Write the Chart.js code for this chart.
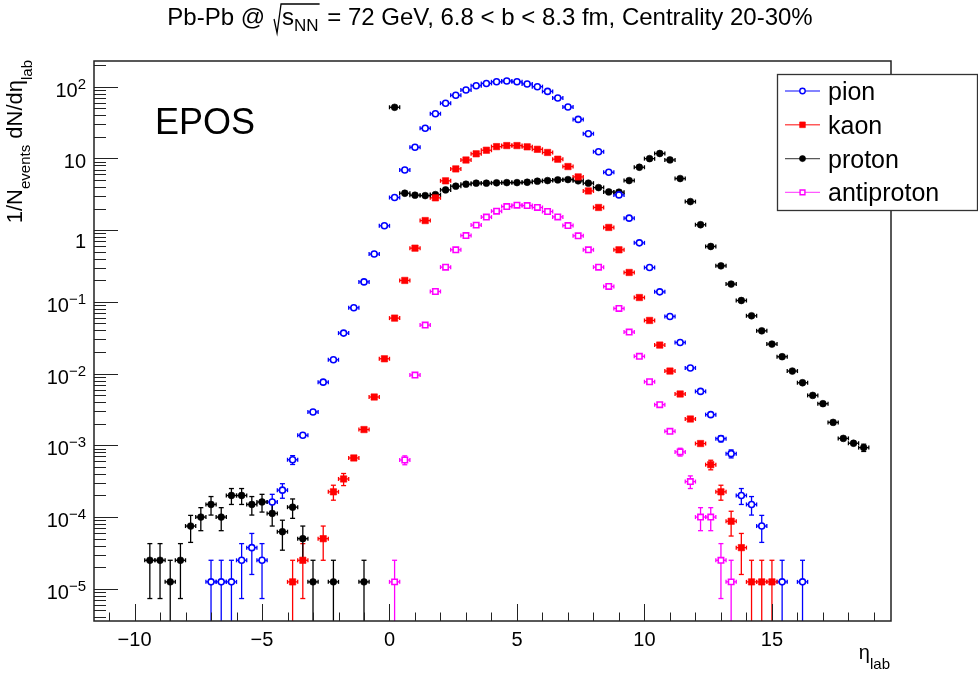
<!DOCTYPE html>
<html>
<head>
<meta charset="utf-8">
<title>EPOS Pb-Pb eta distributions</title>
<script src="https://cdn.jsdelivr.net/npm/chart.js@4.4.0/dist/chart.umd.min.js"></script>
<style>
  html, body { margin: 0; padding: 0; background: #fff; }
</style>
</head>
<body>
<canvas id="etaChart" width="978" height="673"></canvas>
<script>
const pionColor = '#0000ff'
const kaonColor = '#ff0000'
const protonColor = '#000000'
const antiprotonColor = '#ff00ff'

const fontFamily = '"Liberation Sans", Arial, Helvetica, sans-serif'

// eta_lab bin centres (bin width 0.4) and 1/Nevents dN/deta
const pionEta = [-7.0, -6.6, -6.2, -5.8, -5.4, -5.0, -4.6, -4.2, -3.8, -3.4, -3.0, -2.6, -2.2, -1.8, -1.4, -1.0, -0.6, -0.2,
  0.2, 0.6, 1.0, 1.4, 1.8, 2.2, 2.6, 3.0, 3.4, 3.8, 4.2, 4.6, 5.0, 5.4, 5.8, 6.2, 6.6, 7.0, 7.4, 7.8, 8.2, 8.6, 9.0, 9.4,
  9.8, 10.2, 10.6, 11.0, 11.4, 11.8, 12.2, 12.6, 13.0, 13.4, 13.8, 14.2, 14.6, 15.4, 16.2]
const pionVal = [1.25e-5, 1.25e-5, 1.25e-5, 2.5e-5, 3.75e-5, 2.5e-5, 1.625e-4, 2.375e-4, 6.3e-4, 1.38e-3, 2.92e-3, 7.6e-3, 0.0156, 0.0367, 0.0828, 0.19, 0.464, 1.15,
  2.85, 6.9, 14.3, 26.3, 42, 58.8, 75.9, 90, 103, 111, 117, 120, 117, 109, 100, 86, 69.6, 52, 35, 22.1, 12.4, 6.4, 3.1, 1.47,
  0.665, 0.301, 0.138, 0.0627, 0.0272, 0.012, 5.65e-3, 2.68e-3, 1.24e-3, 7.66e-4, 2e-4, 1.5e-4, 7.5e-5, 1.25e-5, 1.25e-5]

const kaonEta = [-3.8, -3.4, -2.6, -2.2, -1.8, -1.4, -1.0, -0.6, -0.2, 0.2, 0.6, 1.0, 1.4, 1.8, 2.2, 2.6, 3.0, 3.4, 3.8, 4.2,
  4.6, 5.0, 5.4, 5.8, 6.2, 6.6, 7.0, 7.4, 7.8, 8.2, 8.6, 9.0, 9.4, 9.8, 10.2, 10.6, 11.0, 11.4, 11.8, 12.2, 12.6, 13.0,
  13.4, 13.8, 14.2, 14.6, 15.0]
const kaonVal = [1.25e-5, 2.5e-5, 5e-5, 2.25e-4, 3.4e-4, 6.67e-4, 1.66e-3, 4.72e-3, 0.0161, 0.0594, 0.199, 0.561, 1.36, 2.82, 4.87, 7.14, 9.5, 11.6, 13.0, 14.6,
  15.1, 15.1, 14.5, 13.4, 12.1, 9.75, 7.7, 5.52, 3.52, 2.07, 1.09, 0.532, 0.257, 0.115, 0.0551, 0.025, 0.01086, 5.2e-3, 2.33e-3, 1.06e-3, 5.38e-4, 2.25e-4,
  8.75e-5, 3.75e-5, 1.25e-5, 1.25e-5, 1.25e-5]

const protonEta = [-9.4, -9.0, -8.6, -8.2, -7.8, -7.4, -7.0, -6.6, -6.2, -5.8, -5.4, -5.0, -4.6, -4.2, -3.8, -3.4, -3.0, -2.2, -1.0,
  0.2, 0.6, 1.0, 1.4, 1.8, 2.2, 2.6, 3.0, 3.4, 3.8, 4.2, 4.6, 5.0, 5.4, 5.8, 6.2, 6.6, 7.0, 7.4, 7.8, 8.2, 8.6, 9.0, 9.4,
  9.8, 10.2, 10.6, 11.0, 11.4, 11.8, 12.2, 12.6, 13.0, 13.4, 13.8, 14.2, 14.6, 15.0, 15.4, 15.8, 16.2, 16.6, 17.0, 17.4,
  17.8, 18.2, 18.6]
const protonVal = [2.5e-5, 2.5e-5, 1.25e-5, 2.5e-5, 7.5e-5, 1e-4, 1.5e-4, 1e-4, 2e-4, 2e-4, 1.5e-4, 1.625e-4, 1.125e-4, 6.25e-5, 1.375e-4, 5e-5, 1.25e-5, 1.25e-5, 1.25e-5,
  51.6, 3.27, 3.07, 3.03, 3.13, 3.64, 4.1, 4.37, 4.52, 4.52, 4.57, 4.6, 4.6, 4.65, 4.81, 4.91, 5.02, 5.07, 4.87, 4.52, 3.92, 3.41, 3.38, 4.91,
  7.53, 9.93, 11.7, 9.53, 5.24, 2.5, 1.19, 0.592, 0.318, 0.177, 0.1045, 0.064, 0.0395, 0.0258, 0.0172, 0.01086, 0.00746, 0.00497, 0.00381, 0.00209,
  0.00125, 0.00107, 0.00093]

const antiprotonEta = [0.2, 0.6, 1.0, 1.4, 1.8, 2.2, 2.6, 3.0, 3.4, 3.8, 4.2, 4.6, 5.0, 5.4, 5.8, 6.2, 6.6, 7.0, 7.4, 7.8,
  8.2, 8.6, 9.0, 9.4, 9.8, 10.2, 10.6, 11.0, 11.4, 11.8, 12.2, 12.6, 13.0, 13.4]
const antiprotonVal = [1.25e-5, 6.25e-4, 9.55e-3, 0.0475, 0.1396, 0.305, 0.532, 0.841, 1.175, 1.52, 1.84, 2.13, 2.23, 2.2, 2.07, 1.82, 1.53, 1.16, 0.834, 0.532,
  0.305, 0.164, 0.081, 0.038, 0.0174, 0.0077, 0.00369, 0.00157, 8.1e-4, 3.125e-4, 1e-4, 1e-4, 2.5e-5, 1.25e-5]

// one entry in a bin is 1.25e-5 after normalisation, errors are poissonian
const binHalfWidth = 0.2
const countUnit = 1.25e-5

const xMajorTicks = [-10, -5, 0, 5, 10, 15]
const xTickLabels = ['\u221210', '\u22125', '0', '5', '10', '15']
const yMajorTicks = [1e-5, 1e-4, 1e-3, 1e-2, 1e-1, 1, 10, 100]
const yTickBase = ['10', '10', '10', '10', '10', '1', '10', '10']
const yTickExp = ['\u22125', '\u22124', '\u22123', '\u22122', '\u22121', '', '', '2']

const xRange = [-11.59, 19.67]
const yRange = [3.56e-6, 228]

const series = [
  { label: 'pion', eta: pionEta, val: pionVal, color: pionColor, style: 'circle', open: true, radius: 3 },
  { label: 'kaon', eta: kaonEta, val: kaonVal, color: kaonColor, style: 'rect', open: false, radius: 4.5 },
  { label: 'proton', eta: protonEta, val: protonVal, color: protonColor, style: 'circle', open: false, radius: 3.4 },
  { label: 'antiproton', eta: antiprotonEta, val: antiprotonVal, color: antiprotonColor, style: 'rect', open: true, radius: 3.8 }
]

function makeDataset(s) {
  var pts = []
  for (var i = 0; i < s.eta.length; i++) {
    pts.push({ x: s.eta[i], y: s.val[i] })
  }
  return {
    label: s.label,
    data: pts,
    pointStyle: s.style,
    pointRadius: s.radius,
    pointBorderWidth: s.open ? 1.6 : 0.6,
    pointBorderColor: s.color,
    pointBackgroundColor: s.open ? '#ffffff' : s.color,
    showLine: false
  }
}

function line(ctx, x1, y1, x2, y2) {
  ctx.beginPath()
  ctx.moveTo(x1, y1)
  ctx.lineTo(x2, y2)
  ctx.stroke()
}

function drawErrors(chart) {
  var ctx = chart.ctx
  var xs = chart.scales.x
  var ys = chart.scales.y
  var area = chart.chartArea
  ctx.save()
  ctx.beginPath()
  ctx.rect(area.left, area.top, area.right - area.left, area.bottom - area.top)
  ctx.clip()
  ctx.lineWidth = 1.3
  series.forEach(function (s) {
    ctx.strokeStyle = s.color
    for (var i = 0; i < s.eta.length; i++) {
      var px = xs.getPixelForValue(s.eta[i])
      var py = ys.getPixelForValue(s.val[i])
      var xl = xs.getPixelForValue(s.eta[i] - binHalfWidth)
      var xr = xs.getPixelForValue(s.eta[i] + binHalfWidth)
      line(ctx, xl, py, xr, py)
      line(ctx, xl, py - 2, xl, py + 2)
      line(ctx, xr, py - 2, xr, py + 2)
      var err = Math.sqrt(s.val[i] * countUnit)
      var yt = ys.getPixelForValue(s.val[i] + err)
      var lo = s.val[i] - err
      var yb = lo > 0 ? ys.getPixelForValue(lo) : area.bottom + 2
      if (yb - yt > 2 * s.radius) {
        line(ctx, px, yt, px, yb)
        line(ctx, px - 2.5, yt, px + 2.5, yt)
        if (lo > 0) line(ctx, px - 2.5, yb, px + 2.5, yb)
      }
    }
  })
  ctx.restore()
}

function drawFrame(chart) {
  var ctx = chart.ctx
  var xs = chart.scales.x
  var ys = chart.scales.y
  var a = chart.chartArea
  ctx.save()
  ctx.strokeStyle = '#222'
  ctx.lineWidth = 1
  // log y ticks, long on decades
  for (var e = -6; e <= 2; e++) {
    for (var k = 1; k <= 9; k++) {
      var v = k * Math.pow(10, e)
      if (v < yRange[0] || v > yRange[1]) continue
      var py = Math.round(ys.getPixelForValue(v)) + 0.5
      line(ctx, a.left, py, a.left + (k === 1 ? 24 : 12), py)
    }
  }
  for (var t = Math.ceil(xRange[0]); t <= Math.floor(xRange[1]); t++) {
    var px = Math.round(xs.getPixelForValue(t)) + 0.5
    line(ctx, px, a.bottom, px, a.bottom - (t % 5 === 0 ? 17 : 8.5))
  }
  ctx.lineWidth = 1.5
  ctx.strokeRect(a.left, a.top, a.right - a.left, a.bottom - a.top)
  ctx.restore()
}

function drawTickLabels(chart) {
  var ctx = chart.ctx
  var xs = chart.scales.x
  var ys = chart.scales.y
  ctx.save()
  ctx.fillStyle = '#000'
  ctx.textBaseline = 'alphabetic'
  ctx.font = '20px ' + fontFamily
  ctx.textAlign = 'center'
  for (var i = 0; i < xMajorTicks.length; i++) {
    ctx.fillText(xTickLabels[i], xs.getPixelForValue(xMajorTicks[i]), 646)
  }
  ctx.textAlign = 'left'
  var right = 86
  for (var j = 0; j < yMajorTicks.length; j++) {
    var py = ys.getPixelForValue(yMajorTicks[j])
    ctx.font = '15px ' + fontFamily
    var ew = yTickExp[j] ? ctx.measureText(yTickExp[j]).width : 0
    ctx.font = '20px ' + fontFamily
    var bw = ctx.measureText(yTickBase[j]).width
    // ROOT drops the lone "1" a bit lower than the others
    var base = py + (yTickBase[j] === '1' ? 18 : 10)
    ctx.fillText(yTickBase[j], right - ew - bw, base)
    if (yTickExp[j]) {
      ctx.font = '15px ' + fontFamily
      ctx.fillText(yTickExp[j], right - ew, base - 8)
    }
  }
  ctx.restore()
}

function drawTitles(chart) {
  var ctx = chart.ctx
  ctx.save()
  ctx.fillStyle = '#000'
  ctx.strokeStyle = '#000'
  ctx.textBaseline = 'alphabetic'
  ctx.textAlign = 'left'

  // main title with a sqrt over s_NN
  var big = '24px ' + fontFamily
  var small = '17px ' + fontFamily
  var t1 = 'Pb-Pb @', t2 = 's', t3 = 'NN', t4 = ' = 72 GeV, 6.8 < b < 8.3 fm, Centrality 20-30%'
  ctx.font = big
  var w1 = ctx.measureText(t1).width
  var w2 = ctx.measureText(t2).width
  var w4 = ctx.measureText(t4).width
  ctx.font = small
  var w3 = ctx.measureText(t3).width
  var gap = 9
  var total = w1 + gap + 8 + w2 + w3 + 2 + w4
  var x = 490 - total / 2
  var base = 25
  ctx.font = big
  ctx.fillText(t1, x, base)
  x += w1 + gap
  ctx.lineWidth = 1.3
  ctx.beginPath()
  ctx.moveTo(x, base - 6)
  ctx.lineTo(x + 3, base + 8)
  ctx.lineTo(x + 7, base - 21)
  ctx.lineTo(x + 8 + w2 + w3 + 1, base - 21)
  ctx.stroke()
  x += 8
  ctx.fillText(t2, x, base)
  x += w2
  ctx.font = small
  ctx.fillText(t3, x, base + 6)
  x += w3 + 2
  ctx.font = big
  ctx.fillText(t4, x, base)

  // y axis title, rotated, ending at the frame top
  var parts = [['1/N', 22, 0], ['events', 15, 8], [' dN/d\u03b7', 22, 0], ['lab', 15, 10]]
  var len = 0
  parts.forEach(function (p) { ctx.font = p[1] + 'px ' + fontFamily; p.push(ctx.measureText(p[0]).width); len += p[3] })
  ctx.save()
  ctx.translate(22, 60 + len)
  ctx.rotate(-Math.PI / 2)
  var tx = 0
  parts.forEach(function (p) {
    ctx.font = p[1] + 'px ' + fontFamily
    ctx.fillText(p[0], tx, p[2])
    tx += p[3]
  })
  ctx.restore()

  // x axis title
  ctx.font = '15px ' + fontFamily
  var lw = ctx.measureText('lab').width
  ctx.font = '20px ' + fontFamily
  var ew = ctx.measureText('\u03b7').width
  ctx.fillText('\u03b7', 890 - lw - ew, 659)
  ctx.font = '15px ' + fontFamily
  ctx.fillText('lab', 890 - lw, 669)

  ctx.font = '36px ' + fontFamily
  ctx.fillText('EPOS', 155, 134)
  ctx.restore()
}

function drawLegend(chart) {
  var ctx = chart.ctx
  ctx.save()
  ctx.fillStyle = '#fff'
  ctx.fillRect(777.5, 74.5, 200, 136)
  ctx.strokeStyle = '#333'
  ctx.lineWidth = 1.3
  ctx.strokeRect(777.5, 74.5, 200, 136)
  var rowY = 91
  series.forEach(function (s) {
    ctx.globalAlpha = 0.65
    ctx.strokeStyle = s.color
    ctx.lineWidth = 1.4
    line(ctx, 785, rowY, 820, rowY)
    ctx.globalAlpha = 1
    ctx.fillStyle = s.open ? '#fff' : s.color
    ctx.lineWidth = s.open ? 1.4 : 0.6
    Chart.helpers.drawPoint(ctx, { pointStyle: s.style, radius: s.radius * 0.9, rotation: 0, borderWidth: ctx.lineWidth }, 802.5, rowY)
    ctx.fillStyle = '#000'
    ctx.font = '25px ' + fontFamily
    ctx.textAlign = 'left'
    ctx.textBaseline = 'alphabetic'
    ctx.fillText(s.label, 828, rowY + 9)
    rowY += 33.8
  })
  ctx.restore()
}

const rootStyle = {
  id: 'rootStyle',
  beforeDraw: function (chart) {
    var ctx = chart.ctx
    ctx.save()
    ctx.fillStyle = '#fff'
    ctx.fillRect(0, 0, chart.width, chart.height)
    ctx.restore()
  },
  beforeDatasetsDraw: function (chart) {
    drawErrors(chart)
  },
  afterDatasetsDraw: function (chart) {
    drawFrame(chart)
  },
  afterDraw: function (chart) {
    drawTickLabels(chart)
    drawTitles(chart)
    drawLegend(chart)
  }
}

var etaChart = new Chart(document.getElementById('etaChart'), {
  type: 'scatter',
  data: { datasets: series.map(makeDataset) },
  options: {
    responsive: false,
    animation: false,
    layout: { padding: { left: 94, right: 87, top: 61, bottom: 52 } },
    plugins: {
      legend: { display: false },
      tooltip: { enabled: false },
      title: { display: false }
    },
    scales: {
      x: { type: 'linear', display: false, bounds: 'data', min: xRange[0], max: xRange[1] },
      y: { type: 'logarithmic', display: false, bounds: 'data', min: yRange[0], max: yRange[1] }
    }
  },
  plugins: [rootStyle]
})
</script>
</body>
</html>
